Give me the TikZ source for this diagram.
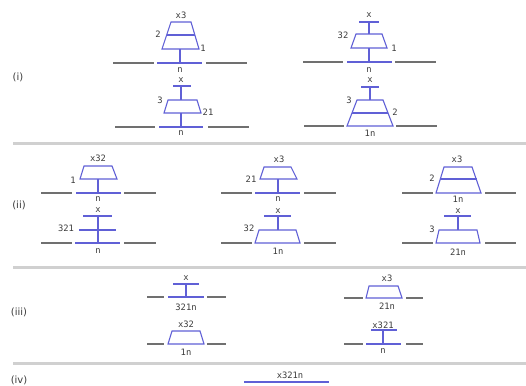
\documentclass[tikz,border=0pt]{standalone}
\usepackage{fontspec}
\setmainfont{DejaVu Sans}
\newfontfamily\labelmono{DejaVu Sans Mono}
\definecolor{frame}{RGB}{96,96,214}
\definecolor{floorgray}{RGB}{112,112,112}
\definecolor{rulegray}{RGB}{208,208,208}
\definecolor{inkgray}{RGB}{60,60,60}
\tikzset{
  part/.style={draw=frame, line width=1.1pt, line join=miter},
  side/.style={draw=floorgray, line width=1.4pt},
  divider/.style={draw=rulegray, line width=3pt},
  lbl/.style={inner sep=0pt, text=inkgray, font=\labelmono\fontsize{8.8}{9}\selectfont},
  panel/.style={inner sep=0pt, text=inkgray, font=\fontsize{10}{12}\selectfont}
}
\begin{document}
\begin{tikzpicture}[x=1pt,y=-1pt]
\useasboundingbox (0,0) rectangle (526,385);

% dividers between the rows
\draw[divider] (13,143) -- (526,143);
\draw[divider] (13,267) -- (526,267);
\draw[divider] (13,363) -- (526,363);

% row labels
\node[panel] (p1) at (18,77) {(i)};
\node[panel] (p2) at (19,205) {(ii)};
\node[panel] (p3) at (19,312) {(iii)};
\node[panel] (p4) at (19,380) {(iv)};

% ---------- row (i), upper left ----------
\draw[side] (113,63) -- (154,63);
\draw[side] (206,63) -- (247,63);
\draw[part] (157,63) -- (202,63);
\draw[part] (180,63) -- (180,49);
\draw[part] (162,49) -- (171,22) -- (191,22) -- (199,49) -- cycle;
\draw[part] (166.5,35) -- (195,35);
\node[lbl] (a1) at (181,15) {x3};
\node[lbl] (a2) at (158,34) {2};
\node[lbl] (a3) at (203,48) {1};
\node[lbl] (a4) at (180,70) {n};

% ---------- row (i), upper right ----------
\draw[side] (303,62) -- (343,62);
\draw[side] (395,62) -- (436,62);
\draw[part] (347,62) -- (392,62);
\draw[part] (369,62) -- (369,48);
\draw[part] (351,48) -- (356,34) -- (382,34) -- (387,48) -- cycle;
\draw[part] (369,34) -- (369,22);
\draw[part] (359,22) -- (379,22);
\node[lbl] (b1) at (369,15) {x};
\node[lbl] (b2) at (343,35) {32};
\node[lbl] (b3) at (394,48) {1};
\node[lbl] (b4) at (369,70) {n};

% ---------- row (i), lower left ----------
\draw[side] (115,127) -- (155,127);
\draw[side] (208,127) -- (249,127);
\draw[part] (159,127) -- (203,127);
\draw[part] (181,127) -- (181,113);
\draw[part] (164,113) -- (168,100) -- (197,100) -- (201,113) -- cycle;
\draw[part] (181,100) -- (181,86);
\draw[part] (173,86) -- (191,86);
\node[lbl] (c1) at (181,80) {x};
\node[lbl] (c2) at (160,100) {3};
\node[lbl] (c3) at (208,112) {21};
\node[lbl] (c4) at (181,133) {n};

% ---------- row (i), lower right ----------
\draw[side] (304,126) -- (344,126);
\draw[side] (396,126) -- (437,126);
\draw[part] (347,126) -- (357,100) -- (383,100) -- (393,126) -- cycle;
\draw[part] (352,113) -- (388,113);
\draw[part] (370,100) -- (370,87);
\draw[part] (361,87) -- (379,87);
\node[lbl] (d1) at (370,80) {x};
\node[lbl] (d2) at (349,100) {3};
\node[lbl] (d3) at (395,112) {2};
\node[lbl] (d4) at (370,133) {1n};

% ---------- row (ii), upper left ----------
\draw[side] (41,193) -- (72,193);
\draw[side] (124,193) -- (156,193);
\draw[part] (76,193) -- (121,193);
\draw[part] (98,193) -- (98,179);
\draw[part] (80,179) -- (84,166) -- (112,166) -- (117,179) -- cycle;
\node[lbl] (e1) at (98,158) {x32};
\node[lbl] (e2) at (73,180) {1};
\node[lbl] (e3) at (98,199) {n};

% ---------- row (ii), lower left ----------
\draw[side] (41,243) -- (72,243);
\draw[side] (124,243) -- (156,243);
\draw[part] (75,243) -- (120,243);
\draw[part] (98,243) -- (98,216);
\draw[part] (79,230) -- (116,230);
\draw[part] (83,216) -- (112,216);
\node[lbl] (f1) at (98,210) {x};
\node[lbl] (f2) at (66,228) {321};
\node[lbl] (f3) at (98,251) {n};

% ---------- row (ii), upper middle ----------
\draw[side] (221,193) -- (252,193);
\draw[side] (304,193) -- (336,193);
\draw[part] (255,193) -- (300,193);
\draw[part] (278,193) -- (278,179);
\draw[part] (260,179) -- (264,167) -- (291,167) -- (297,179) -- cycle;
\node[lbl] (g1) at (279,159) {x3};
\node[lbl] (g2) at (251,179) {21};
\node[lbl] (g3) at (278,199) {n};

% ---------- row (ii), lower middle ----------
\draw[side] (221,243) -- (252,243);
\draw[side] (304,243) -- (336,243);
\draw[part] (255,243) -- (259,230) -- (296,230) -- (300,243) -- cycle;
\draw[part] (278,230) -- (278,216);
\draw[part] (264,216) -- (291,216);
\node[lbl] (h1) at (278,211) {x};
\node[lbl] (h2) at (249,228) {32};
\node[lbl] (h3) at (278,251) {1n};

% ---------- row (ii), upper right ----------
\draw[side] (402,193) -- (433,193);
\draw[side] (485,193) -- (516,193);
\draw[part] (436,193) -- (444,167) -- (472,167) -- (481,193) -- cycle;
\draw[part] (440,179) -- (477,179);
\node[lbl] (k1) at (457,159) {x3};
\node[lbl] (k2) at (432,178) {2};
\node[lbl] (k3) at (458,199) {1n};

% ---------- row (ii), lower right ----------
\draw[side] (402,243) -- (433,243);
\draw[side] (485,243) -- (516,243);
\draw[part] (436,243) -- (439,230) -- (477,230) -- (480,243) -- cycle;
\draw[part] (458,230) -- (458,216);
\draw[part] (444,216) -- (471,216);
\node[lbl] (m1) at (458,211) {x};
\node[lbl] (m2) at (432,229) {3};
\node[lbl] (m3) at (458,252) {21n};

% ---------- row (iii), upper left ----------
\draw[side] (147,297) -- (164,297);
\draw[side] (207,297) -- (226,297);
\draw[part] (168,297) -- (204,297);
\draw[part] (186,297) -- (186,284);
\draw[part] (173,284) -- (199,284);
\node[lbl] (q1) at (186,278) {x};
\node[lbl] (q2) at (186,307) {321n};

% ---------- row (iii), lower left ----------
\draw[side] (147,344) -- (164,344);
\draw[side] (207,344) -- (226,344);
\draw[part] (168,344) -- (172,331) -- (200,331) -- (204,344) -- cycle;
\node[lbl] (r1) at (186,324) {x32};
\node[lbl] (r2) at (186,352) {1n};

% ---------- row (iii), upper right ----------
\draw[side] (344,298) -- (363,298);
\draw[side] (406,298) -- (423,298);
\draw[part] (366,298) -- (369,286) -- (398,286) -- (402,298) -- cycle;
\node[lbl] (s1) at (387,278) {x3};
\node[lbl] (s2) at (387,306) {21n};

% ---------- row (iii), lower right ----------
\draw[side] (344,344) -- (363,344);
\draw[side] (406,344) -- (423,344);
\draw[part] (366,344) -- (401,344);
\draw[part] (383,344) -- (383,330);
\draw[part] (371,330) -- (397,330);
\node[lbl] (t1) at (383,325) {x321};
\node[lbl] (t2) at (383,351) {n};

% ---------- row (iv) ----------
\draw[part] (244,382) -- (329,382);
\draw[part] (302,382) -- (302,380.5);
\node[lbl] (u1) at (290,375) {x321n};

\end{tikzpicture}
\end{document}
